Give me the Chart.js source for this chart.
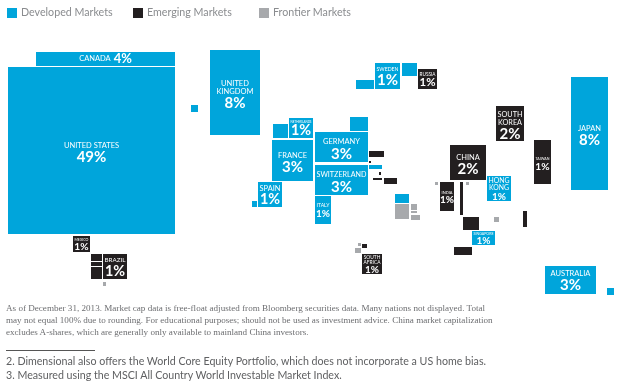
<!DOCTYPE html>
<html>
<head>
<meta charset="utf-8">
<script src="https://cdn.jsdelivr.net/npm/chart.js@4"></script>
<style>
  body { margin: 0; background: #fff; width: 624px; height: 386px; overflow: hidden; }
  #wrap { width: 624px; height: 340px; }
  #legend { position: absolute; left: 0; top: 0; font: 10.7px/24px Lato, sans-serif; color: #8a8c8f; }
  #legend span { position: absolute; top: 0; white-space: nowrap; }
  #legend i { position: absolute; top: 8px; width: 9.5px; height: 9.5px; }
  .source { position: absolute; left: 6px; top: 302px; font: 9.1px/12px "Liberation Serif", serif; color: #6d6e71; white-space: nowrap; }
  .rule { position: absolute; left: 6px; top: 350px; width: 89px; height: 1px; background: #555; }
  .notes { position: absolute; left: 6px; top: 354px; font: 10.67px/14px Lato, sans-serif; color: #5f6062; white-space: nowrap; }
</style>
</head>
<body>
<div id="wrap"><canvas id="myChart" width="624" height="340"></canvas></div>
<div id="legend"></div>
<div class="source">
  As of December 31, 2013. Market cap data is free-float adjusted from Bloomberg securities data. Many nations not displayed. Total<br>
  may not equal 100% due to rounding. For educational purposes; should not be used as investment advice. China market capitalization<br>
  excludes A-shares, which are generally only available to mainland China investors.
</div>
<div class="rule"></div>
<div class="notes">
  2. Dimensional also offers the World Core Equity Portfolio, which does not incorporate a US home bias.<br>
  3. Measured using the MSCI All Country World Investable Market Index.
</div>
<script>
// the map is a cartogram, so each box is [left, right, top, bottom] on the x/y axes
const developedBoxes = [
  [36, 175, 52, 66], [8, 175, 67, 234], [210, 260, 50, 135], [289, 313, 118, 138],
  [272, 313, 140, 181], [315, 368, 132, 162], [315, 368, 165, 195], [258, 282, 182, 207],
  [315, 331, 196, 224], [375, 400, 63, 89], [487, 511, 176, 201], [472, 495, 231, 245],
  [571, 608, 77, 190], [545, 596, 266, 294],
  [191, 198, 105, 112], [273, 288, 124, 138], [350, 368, 117, 131], [252, 257, 201, 207],
  [369, 382, 165, 169], [356, 374, 80, 89], [402, 417, 63, 76], [395, 409, 194, 203],
  [607, 614, 288, 295]
];
const developedNames = ['CANADA', 'UNITED STATES', 'UNITED|KINGDOM', 'NETHERLANDS', 'FRANCE', 'GERMANY',
  'SWITZERLAND', 'SPAIN', 'ITALY', 'SWEDEN', 'HONG|KONG', 'SINGAPORE', 'JAPAN', 'AUSTRALIA'];
const developedShares = [4, 49, 8, 1, 3, 3, 3, 1, 1, 1, 1, 1, 8, 3];

const emergingBoxes = [
  [73, 90, 236, 252], [103, 127, 254, 279], [418, 437, 69, 89], [362, 382, 254, 274],
  [496, 524, 106, 141], [450, 486, 145, 180], [534, 551, 140, 184], [440, 454, 182, 211],
  [91, 102, 254, 261], [91, 102, 262, 266], [91, 102, 267, 279], [369, 384, 151, 157],
  [369, 371, 161, 163], [379, 381, 172, 175], [373, 382, 178, 180], [384, 397, 178, 184],
  [362, 367, 244, 248], [460, 463, 182, 215], [463, 479, 217, 230], [523, 527, 211, 227],
  [454, 472, 247, 255]
];
const emergingNames = ['MEXICO', 'BRAZIL', 'RUSSIA', 'SOUTH|AFRICA', 'SOUTH|KOREA', 'CHINA', 'TAIWAN', 'INDIA'];
const emergingShares = [1, 1, 1, 1, 2, 2, 1, 1];

const frontierBoxes = [
  [103, 106, 282, 286], [395, 409, 204, 219], [411, 417, 204, 210], [411, 417, 211, 213],
  [411, 420, 215, 220], [435, 438, 182, 185], [358, 361, 243, 246], [355, 361, 248, 253],
  [466, 469, 182, 185], [494, 499, 217, 222]
];

const legendLefts = [7, 133, 259];

const toPoints = (boxes, names, shares) => boxes.map((b, i) => ({
  x: b[0], y: b[2], x2: b[1], y2: b[3],
  name: names ? names[i] : null, share: shares ? shares[i] : null
}));

const boxPlugin = {
  id: 'boxes',
  afterDatasetsDraw(chart) {
    const { ctx, scales: { x, y } } = chart;
    chart.data.datasets.forEach(ds => {
      ds.data.forEach(p => {
        const left = x.getPixelForValue(p.x), right = x.getPixelForValue(p.x2);
        const top = y.getPixelForValue(p.y), bottom = y.getPixelForValue(p.y2);
        ctx.fillStyle = ds.backgroundColor;
        ctx.fillRect(left, top, right - left, bottom - top);
        if (p.name) drawLabel(ctx, p, left, right, top, bottom);
      });
    });
  }
};

function drawLabel(ctx, p, left, right, top, bottom) {
  const w = right - left, h = bottom - top;
  const cx = (left + right) / 2, cy = (top + bottom) / 2;
  const pct = p.share + '%';
  const lines = p.name.split('|');
  let nameSize = 7.5;
  ctx.save();
  ctx.fillStyle = '#fff';
  ctx.textBaseline = 'middle';
  ctx.textAlign = 'center';
  lines.forEach(l => {
    ctx.font = nameSize + 'px Lato';
    const tw = ctx.measureText(l).width;
    if (tw > w - 3) nameSize = nameSize * (w - 3) / tw;
  });
  const lineH = nameSize * 1.05;
  const pctFont = s => 'bold ' + s + 'px Lato';
  if (w > 4 * h) {
    // the Canada strip has name and number on one line
    ctx.font = nameSize + 'px Lato';
    const nw = ctx.measureText(p.name).width;
    ctx.font = pctFont(13);
    const pw = ctx.measureText(pct).width;
    const start = cx - (nw + pw + 3) / 2;
    ctx.textAlign = 'left';
    ctx.font = nameSize + 'px Lato';
    ctx.fillText(p.name, start, cy);
    ctx.font = pctFont(13);
    ctx.fillText(pct, start + nw + 3, cy);
  } else {
    const pctSize = Math.max(10, Math.min(15, w * 0.6, h - lines.length * lineH - 1));
    const total = lines.length * lineH + pctSize * 0.95;
    // big boxes sit a little low in the original
    const drop = h >= 30 ? 2 : 0.5;
    let yy = cy - total / 2 + lineH / 2 + drop;
    ctx.font = nameSize + 'px Lato';
    lines.forEach(l => { ctx.fillText(l, cx, yy); yy += lineH; });
    ctx.font = pctFont(pctSize);
    ctx.fillText(pct, cx, yy - lineH / 2 + pctSize * 0.48 + (h >= 30 ? 1 : 0.5));
  }
  ctx.restore();
}

const context = document.getElementById('myChart').getContext('2d');
const myChart = new Chart(context, {
  type: 'scatter',
  plugins: [boxPlugin],
  data: {
    datasets: [
      { label: 'Developed Markets', data: toPoints(developedBoxes, developedNames, developedShares), backgroundColor: '#00a5db', borderWidth: 0, pointRadius: 0 },
      { label: 'Emerging Markets', data: toPoints(emergingBoxes, emergingNames, emergingShares), backgroundColor: '#231f20', borderWidth: 0, pointRadius: 0 },
      { label: 'Frontier Markets', data: toPoints(frontierBoxes), backgroundColor: '#a7a9ac', borderWidth: 0, pointRadius: 0 }
    ]
  },
  options: {
    responsive: false,
    animation: false,
    layout: { padding: 0 },
    scales: {
      x: { type: 'linear', min: 0, max: 624, display: false },
      y: { type: 'linear', min: 0, max: 340, reverse: true, display: false }
    },
    plugins: {
      tooltip: { enabled: false },
      legend: { display: false }
    }
  }
});

// html legend, the built in one can't space the items like the original
const legendEl = document.getElementById('legend');
myChart.data.datasets.forEach((ds, i) => {
  const box = document.createElement('i');
  box.style.left = legendLefts[i] + 'px';
  box.style.background = ds.backgroundColor;
  const text = document.createElement('span');
  text.style.left = (legendLefts[i] + 14) + 'px';
  text.textContent = ds.label;
  legendEl.append(box, text);
});
</script>
</body>
</html>
